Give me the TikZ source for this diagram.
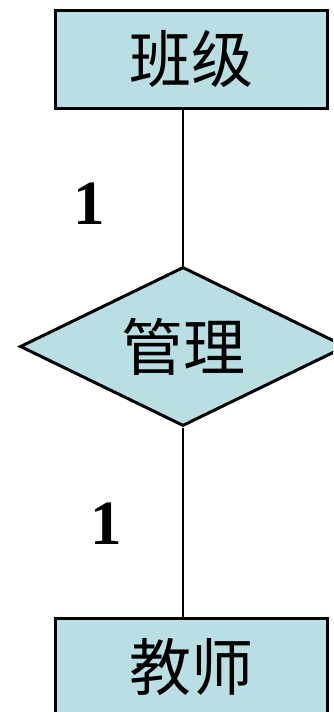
\documentclass[tikz,border=0pt]{standalone}
\usepackage{fontspec}
\newfontfamily\cjk{Noto Sans CJK SC}
\newfontfamily\numfont{Liberation Serif}
\usetikzlibrary{shapes.geometric}
\definecolor{erfill}{RGB}{186,223,227}

\tikzset{every picture/.style={line width=0.75pt}}
\tikzset{
  entity/.style={draw, fill=erfill, line width=3pt, minimum width=272, minimum height=98, inner sep=0pt, font=\cjk\fontsize{62}{62}\selectfont},
  relation/.style={draw, fill=erfill, diamond, aspect=2.05, line width=3pt, minimum width=326, minimum height=159, inner sep=0pt, font=\cjk\fontsize{62}{62}\selectfont},
  card/.style={inner sep=0pt, font=\numfont\bfseries\fontsize{63}{63}\selectfont}
}

\begin{document}
\begin{tikzpicture}[x=1pt,y=1pt,yscale=-1,xscale=1]
\path[use as bounding box] (0,0) rectangle (333,712);
\clip (0,0) rectangle (333,712);

%Shape: Rectangle [id:banji]
\node [entity] (banji) at (191,59) {班级};
%Shape: Diamond [id:guanli]
\node [relation] (guanli) at (183,346.5) {管理};
%Shape: Rectangle [id:jiaoshi]
\node [entity] (jiaoshi) at (191,667) {教师};

%Straight Lines
\draw [line width=2pt] (guanli.north) -- (guanli.north |- banji.south) ;
%Straight Lines
\draw [line width=2pt] (guanli.south) -- (guanli.south |- jiaoshi.north) ;

% Text Node
\node [card] (c1) at (89,204) {1};
% Text Node
\node [card] (c2) at (106,524) {1};

\end{tikzpicture}
\end{document}
